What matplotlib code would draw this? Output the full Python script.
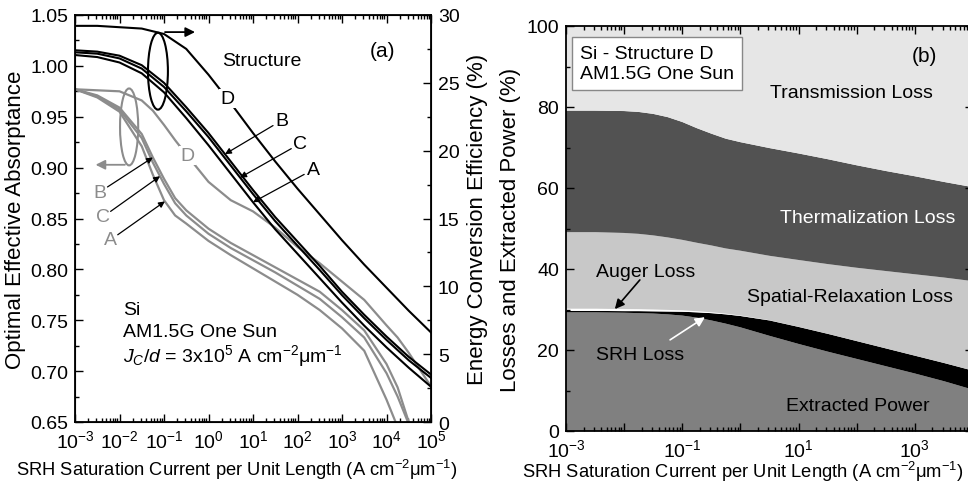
# =========================
# IMPORTS
# =========================
import numpy as np
import matplotlib
matplotlib.use("Agg")
import matplotlib.pyplot as plt
from matplotlib.patches import Ellipse
from matplotlib.ticker import LogLocator, FixedLocator, FuncFormatter, MultipleLocator, FormatStrFormatter, NullFormatter

plt.rcParams['font.family'] = ['Liberation Sans', 'DejaVu Sans']
plt.rcParams['mathtext.fontset'] = 'custom'
plt.rcParams['mathtext.rm'] = 'Liberation Sans'
plt.rcParams['mathtext.it'] = 'Liberation Sans:italic'
plt.rcParams['font.size'] = 14

# =========================
# DATA - PANEL (a)
# =========================
# efficiency curves (%) vs log10 of SRH saturation current
log_eff = [-3, -2.5, -2, -1.5, -1, -0.5, 0, 0.5, 1, 1.5, 2, 2.5, 3, 3.5, 4, 4.5, 5]
eff_D = [29.2, 29.2, 29.1, 29.0, 28.6, 27.5, 25.6, 23.5, 21.3, 19.2, 17.2, 15.3, 13.4, 11.6, 9.9, 8.2, 6.6]
eff_B = [27.4, 27.3, 27.0, 26.3, 25.0, 23.2, 21.3, 19.2, 17.1, 15.1, 13.3, 11.5, 9.6, 7.9, 6.3, 4.8, 3.5]
eff_C = [27.25, 27.15, 26.8, 26.05, 24.7, 22.9, 21.0, 18.9, 16.8, 14.8, 13.0, 11.2, 9.35, 7.65, 6.05, 4.55, 3.25]
eff_A = [27.05, 26.9, 26.5, 25.7, 24.3, 22.4, 20.4, 18.3, 16.2, 14.2, 12.4, 10.6, 8.8, 7.1, 5.5, 4.0, 2.6]

# optimal effective absorptance curves
log_abs = [-3, -2.5, -2, -1.5, -1.25, -1, -0.75, -0.5, 0, 0.5, 1, 1.5, 2, 2.5, 3, 3.5, 4, 4.25, 4.5, 5]
abs_D = [0.977, 0.976, 0.975, 0.966, 0.956, 0.942, 0.927, 0.913, 0.886, 0.868, 0.857, 0.841, 0.822, 0.806,
         0.788, 0.770, 0.745, 0.733, 0.718, 0.685]
abs_B = [0.977, 0.971, 0.959, 0.933, 0.910, 0.889, 0.870, 0.858, 0.840, 0.826, 0.814, 0.802, 0.790, 0.778,
         0.760, 0.740, 0.707, 0.684, 0.650, 0.570]
abs_C = [0.977, 0.970, 0.957, 0.929, 0.905, 0.884, 0.865, 0.853, 0.835, 0.821, 0.809, 0.797, 0.784, 0.771,
         0.753, 0.733, 0.698, 0.675, 0.648, 0.570]
abs_A = [0.977, 0.969, 0.955, 0.921, 0.893, 0.868, 0.853, 0.845, 0.828, 0.814, 0.801, 0.788, 0.775, 0.760,
         0.742, 0.720, 0.672, 0.645, 0.620, 0.550]

# =========================
# DATA - PANEL (b)
# =========================
log_b = [-3, -2.5, -2, -1.75, -1.5, -1.25, -1, -0.75, -0.5, -0.25, 0, 0.5, 1, 1.5, 2, 2.5, 3, 3.5, 4]
extracted = [29.3, 29.3, 29.2, 29.1, 29.0, 28.8, 28.5, 28.0, 27.3, 26.5, 25.6, 23.5, 21.5, 19.6, 17.8,
             16.0, 14.2, 12.3, 10.2]
srh_loss = [0.35, 0.35, 0.4, 0.5, 0.55, 0.7, 0.95, 1.3, 1.8, 2.3, 2.8, 3.8, 4.2, 4.4, 4.4, 4.4, 4.4, 4.5, 4.7]
auger_loss = [0.55, 0.55, 0.5, 0.48, 0.45, 0.4, 0.35, 0.28, 0.22, 0.17, 0.12, 0.06, 0.03, 0.02, 0.01,
              0.0, 0.0, 0.0, 0.0]
spatial_loss = [18.9, 18.9, 18.8, 18.6, 18.3, 17.9, 17.4, 16.9, 16.5, 16.1, 16.0, 15.9, 16.5, 17.2, 18.1,
                19.1, 20.1, 21.1, 22.1]
thermal_loss = [30.0, 30.0, 30.1, 30.1, 30.0, 29.7, 29.1, 28.3, 27.6, 27.1, 26.8, 26.6, 26.3, 25.9, 25.3,
                24.7, 24.2, 23.6, 23.2]

xlabel = r'SRH Saturation Current per Unit Length (A cm$^{-2}$μm$^{-1}$)'
GRAY = '#8c8c8c'
FS_TXT = 14
FS_X = 13.2
FS_Y = 16

# =========================
# FIGURE
# =========================
fig = plt.figure(figsize=(9.68, 4.89), dpi=100)
ax1 = fig.add_axes([75/968, 66/489, 356/968, 407/489])
ax2 = ax1.twinx()
axb = fig.add_axes([566/968, 57/489, 407/968, 405/489])


def style_log_x(ax, lo, hi, label_fn):
    ax.set_xscale('log')
    ax.set_xlim(10.0**lo, 10.0**hi)
    ax.xaxis.set_major_locator(FixedLocator([10.0**k for k in range(lo, hi + 1)]))
    ax.xaxis.set_minor_locator(LogLocator(base=10, subs=np.arange(2, 10), numticks=20))
    ax.xaxis.set_major_formatter(FuncFormatter(label_fn))
    ax.xaxis.set_minor_formatter(NullFormatter())


def dec_label(v, pos):
    return r'$10^{%d}$' % int(round(np.log10(v)))


def odd_label(v, pos):
    k = int(round(np.log10(v)))
    return r'$10^{%d}$' % k if k % 2 else ''


# =========================
# PANEL (a)
# =========================
xa = 10.0 ** np.array(log_abs)
xe = 10.0 ** np.array(log_eff)

for vals in [abs_D, abs_B, abs_C, abs_A]:
    ax1.plot(xa, vals, color=GRAY, lw=1.6)
for vals in [eff_D, eff_B, eff_C, eff_A]:
    ax2.plot(xe, vals, color='k', lw=1.5)

style_log_x(ax1, -3, 5, dec_label)
ax1.set_ylim(0.65, 1.05)
ax1.yaxis.set_major_locator(MultipleLocator(0.05))
ax1.yaxis.set_minor_locator(MultipleLocator(0.025))
ax1.yaxis.set_major_formatter(FormatStrFormatter('%.2f'))
ax2.set_ylim(0, 30)
ax2.yaxis.set_major_locator(MultipleLocator(5))
ax2.yaxis.set_minor_locator(MultipleLocator(2.5))

ax1.tick_params(which='both', direction='in', top=True, right=False, labelsize=14, pad=5)
ax1.tick_params(which='major', length=6, width=1)
ax1.tick_params(which='minor', length=3, width=1)
ax2.tick_params(which='both', direction='in', labelsize=14, pad=5)
ax2.tick_params(which='major', length=6, width=1)
ax2.tick_params(which='minor', length=3, width=1)
for sp in ax1.spines.values():
    sp.set_linewidth(1.3)

ax1.set_ylabel('Optimal Effective Absorptance', fontsize=FS_Y, labelpad=3)
ax2.set_ylabel('Energy Conversion Efficiency (%)', fontsize=FS_Y, labelpad=5)
ax1.set_xlabel(xlabel, fontsize=FS_X)
ax1.xaxis.set_label_coords(0.455, -0.085)

# ellipses and direction arrows
ax2.add_patch(Ellipse((0.233, 0.862), 0.056, 0.189, transform=ax2.transAxes,
                      fill=False, ec='k', lw=1.5))
ax2.annotate('', xy=(0.345, 0.958), xytext=(0.245, 0.958), xycoords='axes fraction',
             arrowprops=dict(arrowstyle='-|>', color='k', lw=1.3, mutation_scale=14))
ax2.add_patch(Ellipse((0.152, 0.725), 0.051, 0.189, transform=ax2.transAxes,
                      fill=False, ec=GRAY, lw=1.5))
ax2.annotate('', xy=(0.05, 0.632), xytext=(0.148, 0.632), xycoords='axes fraction',
             arrowprops=dict(arrowstyle='-|>', color=GRAY, lw=1.3, mutation_scale=14))

# structure labels (black, efficiency)
ax2.text(10**0.42, np.interp(0.42, log_eff, eff_D), 'D', ha='center', va='center', fontsize=FS_TXT,
         bbox=dict(fc='white', ec='none', pad=1), zorder=5)
for lab, vals, tx, ty, hx in [('B', eff_B, 1.65, 22.2, 0.37),
                              ('C', eff_C, 2.06, 20.5, 0.71),
                              ('A', eff_A, 2.35, 18.6, 1.0)]:
    ax2.text(10**tx, ty, lab, ha='center', va='center', fontsize=FS_TXT)
    ax2.annotate('', xy=(10**hx, np.interp(hx, log_eff, vals)), xytext=(10**(tx - 0.2), ty - 0.35),
                 arrowprops=dict(arrowstyle='-|>', color='k', lw=0.9, mutation_scale=9,
                                 shrinkA=0, shrinkB=0))

# structure labels (gray, absorptance)
ax1.text(10**-0.48, np.interp(-0.48, log_abs, abs_D), 'D', ha='center', va='center', fontsize=FS_TXT,
         color=GRAY, bbox=dict(fc='white', ec='none', pad=1), zorder=5)
for lab, vals, tx, ty, hx in [('B', abs_B, -2.44, 0.876, -1.25),
                              ('C', abs_C, -2.37, 0.852, -1.09),
                              ('A', abs_A, -2.21, 0.829, -0.98)]:
    ax1.text(10**tx, ty, lab, ha='center', va='center', fontsize=FS_TXT, color=GRAY)
    ax1.annotate('', xy=(10**hx, np.interp(hx, log_abs, vals)), xytext=(10**(tx + 0.17), ty + 0.005),
                 arrowprops=dict(arrowstyle='-|>', color='k', lw=0.9, mutation_scale=9,
                                 shrinkA=0, shrinkB=0))

ax1.text(10**0.3, 1.005, 'Structure', ha='left', va='center', fontsize=FS_TXT)
ax1.text(10**3.92, 1.015, '(a)', ha='center', va='center', fontsize=15)
ax1.text(10**-1.92, 0.761, 'Si', ha='left', va='center', fontsize=FS_TXT)
ax1.text(10**-1.92, 0.739, 'AM1.5G One Sun', ha='left', va='center', fontsize=FS_TXT)
ax1.text(10**-1.92, 0.716, r'$J_C$/$d$ = 3x10$^5$ A cm$^{-2}$μm$^{-1}$', ha='left', va='center',
         fontsize=FS_TXT)

# =========================
# PANEL (b)
# =========================
xb = 10.0 ** np.array(log_b)
layers = [extracted, srh_loss, auger_loss, spatial_loss, thermal_loss]
colors = ['#808080', '#000000', '#ffffff', '#c8c8c8', '#525252']
bottom = np.zeros(len(log_b))
for vals, col in zip(layers, colors):
    top = bottom + np.array(vals)
    axb.fill_between(xb, bottom, top, facecolor=col, edgecolor='none', lw=0)
    bottom = top
axb.fill_between(xb, bottom, 100, facecolor='#e6e6e6', edgecolor='none', lw=0)

style_log_x(axb, -3, 4, odd_label)
axb.set_ylim(0, 100)
axb.yaxis.set_major_locator(MultipleLocator(20))
axb.yaxis.set_minor_locator(MultipleLocator(10))
axb.tick_params(which='both', direction='in', top=True, right=True, labelsize=14, pad=5)
axb.tick_params(which='major', length=6, width=1)
axb.tick_params(which='minor', length=3, width=1)
for sp in axb.spines.values():
    sp.set_linewidth(1.3)
axb.set_ylabel('Losses and Extracted Power (%)', fontsize=FS_Y, labelpad=4)
axb.set_xlabel(xlabel, fontsize=FS_X)
axb.xaxis.set_label_coords(0.435, -0.07)

axb.text(10**-2.76, 90.8, 'Si - Structure D\nAM1.5G One Sun', ha='left', va='center', fontsize=FS_TXT,
         linespacing=1.25, bbox=dict(boxstyle='square,pad=0.4', fc='white', ec='#888888', lw=1))
axb.text(10**3.17, 92.6, '(b)', ha='center', va='center', fontsize=15)
axb.text(10**1.91, 83.7, 'Transmission Loss', ha='center', va='center', fontsize=FS_TXT)
axb.text(10**2.19, 52.8, 'Thermalization Loss', ha='center', va='center', fontsize=FS_TXT, color='white')
axb.text(10**1.88, 33.3, 'Spatial-Relaxation Loss', ha='center', va='center', fontsize=FS_TXT)
axb.text(10**-1.63, 39.5, 'Auger Loss', ha='center', va='center', fontsize=FS_TXT)
axb.text(10**-1.73, 19.0, 'SRH Loss', ha='center', va='center', fontsize=FS_TXT)
axb.text(10**2.02, 6.2, 'Extracted Power', ha='center', va='center', fontsize=FS_TXT)
axb.annotate('', xy=(10**-2.16, 30.1), xytext=(10**-1.73, 37.3),
             arrowprops=dict(arrowstyle='-|>', color='k', lw=1.2, mutation_scale=14, shrinkA=0, shrinkB=0))
axb.annotate('', xy=(10**-0.61, 28.1), xytext=(10**-1.21, 22.5),
             arrowprops=dict(arrowstyle='-|>', color='white', lw=1.2, mutation_scale=14, shrinkA=0, shrinkB=0))

fig.savefig('out.png', dpi=100)
